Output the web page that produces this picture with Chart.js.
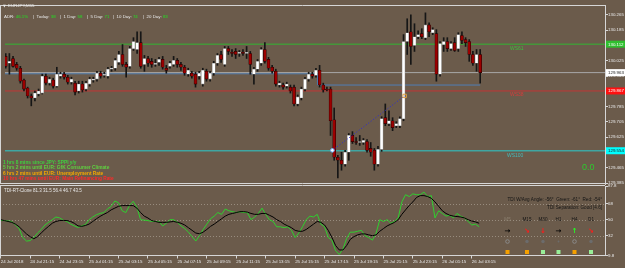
<!DOCTYPE html>
<html><head><meta charset="utf-8">
<script src="https://cdn.jsdelivr.net/npm/chart.js@4.4.1/dist/chart.umd.min.js"></script>
<style>
html,body{margin:0;padding:0;background:#6b5b4b;}
#wrap{position:relative;width:625px;height:268px;overflow:hidden;background:#6b5b4b;}
canvas{position:absolute;left:0;}
#c1{top:0;} #c2{top:178px;}
</style></head><body>
<div id="wrap"><canvas id="c1" width="625" height="190"></canvas><canvas id="c2" width="625" height="90"></canvas></div>
<script>
// ---------------- DATA ----------------
const timeLabels = ["24 Jul 2018","24 Jul 21:15","24 Jul 23:15","25 Jul 01:15","25 Jul 03:15","25 Jul 05:15","25 Jul 07:15","25 Jul 09:15","25 Jul 11:15","25 Jul 13:15","25 Jul 15:15","25 Jul 17:15","25 Jul 19:15","25 Jul 21:15","25 Jul 23:15","26 Jul 01:15","26 Jul 03:15"];
const timeTickBars = [0,8,16,24,32,40,48,56,64,72,80,88,96,104,112,120,128];
const priceTicks = [129.385,129.465,129.545,129.625,129.705,129.785,129.865,129.945,130.025,130.105,130.185,130.265];
const tdiTicks = [9.8,32,50,68,87.8];
const tdiLevels = [68,50,32];

const open = [
130.048,130.012,130.037,130.006,129.986,129.924,129.882,129.841,129.830,129.851,
129.856,129.944,129.908,129.924,129.892,129.944,129.955,129.939,129.913,129.908,
129.867,129.903,129.877,129.903,129.924,129.929,129.960,129.949,129.944,129.981,
129.986,130.017,130.058,130.006,129.996,130.089,130.084,130.120,130.006,130.037,
130.022,130.006,130.017,130.032,129.986,129.996,130.006,130.027,130.006,129.991,
129.955,129.960,129.955,129.944,129.903,129.970,129.929,129.960,130.012,130.058,
130.006,130.089,130.069,130.074,130.063,130.069,130.063,130.063,129.955,129.981,
130.012,130.084,130.032,129.991,129.970,129.898,129.898,129.892,129.887,129.887,
129.799,129.830,129.877,129.929,129.955,129.949,129.975,129.898,129.877,129.877,
129.716,129.520,129.504,129.483,129.546,129.634,129.602,129.597,129.597,129.602,
129.566,129.556,129.483,129.561,129.727,129.696,129.711,129.685,129.685,129.722,
130.126,130.177,130.105,130.151,130.167,130.146,130.213,130.172,130.167,129.955,
130.110,130.126,130.089,130.120,130.089,130.157,130.136,130.126,130.058,130.012,
130.058];
const high = [
130.063,130.063,130.048,130.017,129.996,129.929,129.887,129.851,129.867,129.877,
129.955,129.955,129.939,129.934,129.991,129.965,129.965,129.949,129.939,129.918,
129.918,129.918,129.918,129.939,129.939,129.970,129.970,129.965,129.991,129.996,
130.037,130.074,130.110,130.017,130.100,130.146,130.177,130.177,130.053,130.048,
130.037,130.032,130.043,130.048,130.001,130.022,130.048,130.037,130.017,130.001,
129.986,129.970,129.965,129.970,129.986,129.981,129.970,130.022,130.063,130.074,
130.100,130.100,130.084,130.089,130.079,130.084,130.100,130.074,129.991,130.032,
130.094,130.120,130.043,130.001,129.981,129.918,129.908,129.913,129.898,129.898,
129.846,129.887,129.939,129.965,129.965,129.986,130.001,129.908,129.887,129.887,
129.778,129.530,129.546,129.556,129.644,129.654,129.623,129.634,129.618,129.613,
129.597,129.566,129.577,129.732,129.799,129.763,129.727,129.706,129.732,130.162,
130.245,130.265,130.219,130.182,130.193,130.276,130.224,130.198,130.188,130.126,
130.146,130.146,130.126,130.146,130.172,130.177,130.146,130.136,130.074,130.084,
130.084];
const low = [
129.986,129.955,129.991,129.975,129.908,129.867,129.830,129.789,129.815,129.841,
129.851,129.898,129.898,129.882,129.887,129.934,129.929,129.903,129.903,129.846,
129.856,129.861,129.867,129.892,129.913,129.918,129.934,129.939,129.934,129.970,
129.975,130.006,129.996,129.939,129.986,130.079,130.063,129.986,129.970,129.996,
129.991,129.996,130.001,129.981,129.960,129.986,129.996,129.991,129.975,129.949,
129.944,129.934,129.887,129.929,129.892,129.918,129.918,129.949,130.001,130.017,
129.996,130.058,130.048,130.037,130.048,130.053,130.037,129.955,129.903,129.970,
130.001,130.012,129.975,129.960,129.892,129.887,129.877,129.882,129.856,129.789,
129.789,129.820,129.867,129.918,129.934,129.939,129.887,129.861,129.867,129.634,
129.504,129.411,129.452,129.473,129.504,129.592,129.587,129.582,129.587,129.546,
129.525,129.452,129.473,129.551,129.685,129.685,129.659,129.675,129.675,129.711,
130.058,130.006,130.074,130.141,130.141,130.136,130.151,130.162,129.918,129.944,
130.074,130.074,130.079,130.074,130.074,130.115,130.100,130.022,130.001,129.970,
129.908];
const close = [
129.996,130.022,129.996,129.986,129.918,129.877,129.841,129.830,129.856,129.867,
129.944,129.908,129.929,129.892,129.955,129.955,129.939,129.913,129.929,129.861,
129.903,129.872,129.908,129.929,129.929,129.960,129.944,129.955,129.981,129.986,
130.027,130.058,130.006,129.991,130.089,130.126,130.120,129.996,130.037,130.012,
130.006,130.012,130.032,129.991,129.975,130.012,130.027,130.006,129.991,129.960,
129.975,129.944,129.903,129.960,129.975,129.929,129.960,130.012,130.053,130.032,
130.089,130.074,130.063,130.058,130.069,130.063,130.069,130.006,129.981,130.022,
130.084,130.022,129.986,129.970,129.903,129.908,129.887,129.903,129.867,129.799,
129.836,129.877,129.929,129.955,129.944,129.975,129.898,129.872,129.872,129.711,
129.520,129.504,129.483,129.546,129.634,129.602,129.597,129.602,129.608,129.556,
129.546,129.483,129.561,129.722,129.696,129.711,129.675,129.696,129.722,130.126,
130.172,130.100,130.151,130.162,130.151,130.213,130.177,130.188,129.955,130.115,
130.126,130.089,130.115,130.079,130.162,130.131,130.120,130.058,130.012,130.058,
129.963];

const tdiGreen = [49.2,49,48.5,48,44,40,30,26,26.5,30,
 35,39,44,47,50,53,52,49.5,48,45,
 43,41.3,43,44.5,50,53,55.6,57,58,62,
 65,71,69,60,58,66,70.6,64,50,49.5,
 49,48,48,48,43,46,50,50,47,43,
 40,36,31,26,32,39,45,51,54,58,
 56,62,60,59,58,59,58,58,50,53,
 57,63,56,50,48,42,42,41,42,38,
 30,35,42,50,54,53,56,45,42,30,
 27,15,11,17,29,36,36,37,38,32,
 30,27,35,50,48,50,46,48,52,70,
 78,76,79,78,78,81,76,77,52,60,
 57,54,55,52,57,54,52,48,44,45,
 42];
const tdiBlack = [50,49,48,47,45,42,38,34,31,28.6,
 31,35,39,42.5,46,48,49,49.2,49,48,
 46,43,42.5,43.5,45,48,51,53.7,56,58,
 61,63,65,65.8,65.8,65.8,65.8,63,58,54,
 51.9,49,48,47,47,47,47.5,48,47,46,
 44,41,38,35,34.2,36,39,42.5,45,48,
 51,54,56,57,58,59,59,58.5,57,56,
 56,57,57,55,53,50,48,45,43,41,
 38,37,37,39,42,45,48,47,44,38,
 30,21,16,16,21,28,31,33,34,34,
 33,32,33,37,40,43,45,47,50,56,
 61,66,70,75,77,77,76,74,70,65,
 60,57,55,54,53.5,53,52,50,48.5,47.5,
 46];

const levelGreen = 130.112, levelBid = 129.963, levelRed = 129.867, levelTeal = 129.554;
const bluePivot = [{from:-0.2, to:85.5, value:129.957},{from:85.5, to:130, value:129.898}];
const trendLine = [{x:89.5, y:129.556},{x:109.3, y:129.841}];

const eventLines = [
 ["1 hrs 8 mins since JPY: SPPI y/y", "#3fcf3f"],
 ["5 hrs 2 mins until EUR: GfK Consumer Climate", "#5fd040"],
 ["6 hrs 2 mins until EUR: Unemployment Rate", "#f5a800"],
 ["10 hrs 47 mins until EUR: Main Refinancing Rate", "#ff2a2a"]
];
const adrParts = [["ADR:","46.1%"],["|  Today:","38"],["|  1 Day:","58"],["|  5 Day:","71"],["|  10 Day:","74"],["|  20 Day:","83"]];
const mtfFrames = ["M5","M15","M30","H1","H4","D1"];
const mtfArrows = ["\u2192","\u2198","\u2193","\u2192","\u2191","\u2198"];
const mtfArrowColors = ["#000000","#ff1a1a","#ff1a1a","#000000","#22ff22","#ff1a1a"];
const mtfDots = ["ring","fill","fill","dot","ring","fill"];
const mtfSquares = ["#f5a000","#f5a000","#98ee98","#98ee98","#f5a000","#98ee98"];

// ---------------- LAYOUT ----------------
const XMIN = -0.2, XMAX = 164.2;
const YMIN = 129.3798, YMAX = 130.3171;
const FONT = '"Liberation Sans", Arial, sans-serif';
const AX = '#d6d6d6';
const idx = close.map((_, i) => i);

const mainPlugin = {
  id: 'mainDeco',
  afterDraw(chart) {
    const ctx = chart.ctx, ca = chart.chartArea, ys = chart.scales.y;
    ctx.save();
    ctx.strokeStyle = AX; ctx.lineWidth = 1;
    ctx.beginPath();
    ctx.moveTo(0, ca.top + 0.5); ctx.lineTo(ca.right, ca.top + 0.5);
    ctx.moveTo(0.5, ca.top); ctx.lineTo(0.5, ca.bottom);
    ctx.moveTo(0, ca.bottom - 0.5); ctx.lineTo(ca.right, ca.bottom - 0.5);
    ctx.stroke();
    ctx.textBaseline = 'middle'; ctx.textAlign = 'left';
    // header
    ctx.fillStyle = '#e8e8e8';
    ctx.font = '3.6px "DejaVu Sans"';
    ctx.fillText('\u25BC', 3, 6);
    ctx.font = '4.4px ' + FONT;
    ctx.fillText('EURJPY,M15', 8, 6);
    const adrX = [4, 33, 60, 87, 113, 143];
    adrParts.forEach((p, k) => {
      ctx.fillStyle = '#e8e8e8';
      ctx.fillText(p[0], adrX[k], 17);
      const w = ctx.measureText(p[0] + ' ').width;
      ctx.fillStyle = '#22e022';
      ctx.fillText(p[1], adrX[k] + w, 17);
    });
    // events
    ctx.font = 'bold 4.8px ' + FONT;
    const ey = [162.5, 168, 173.5, 179];
    eventLines.forEach((e, k) => { ctx.fillStyle = e[1]; ctx.fillText(e[0], 3, ey[k]); });
    // line labels
    ctx.font = '5px ' + FONT;
    ctx.fillStyle = '#3cbf3c'; ctx.fillText('WS61', 510, ys.getPixelForValue(levelGreen) + 4);
    ctx.fillStyle = '#d83a3a'; ctx.fillText('WS38', 510, ys.getPixelForValue(levelRed) + 4);
    ctx.fillStyle = '#45b8b8'; ctx.fillText('WS100', 507, ys.getPixelForValue(levelTeal) + 4.5);
    ctx.font = '9px ' + FONT;
    ctx.fillStyle = '#2ec82e'; ctx.fillText('0.0', 582, 168);
    // price boxes on axis
    const boxes = [[levelGreen,'#2fbf2f','#ffffff','130.112'],[levelBid,'#ffffff','#202020','129.963'],[levelRed,'#ff1010','#ffffff','129.867'],[levelTeal,'#00ffff','#202020','129.554']];
    ctx.font = '4.4px ' + FONT;
    boxes.forEach(b => {
      const y = ys.getPixelForValue(b[0]);
      ctx.fillStyle = b[1]; ctx.fillRect(606, y - 3.5, 19, 7);
      ctx.fillStyle = b[2]; ctx.fillText(b[3], 608, y + 0.3);
    });
    ctx.restore();
  }
};

const lvl = (v, color, w) => ({ type:'line', data:[{x:XMIN,y:v},{x:XMAX,y:v}], borderColor:color, borderWidth:w||1, pointRadius:0, order:5 });
const blueData = [];
bluePivot.forEach(s => { blueData.push({x:s.from, y:s.value}); blueData.push({x:s.to, y:s.value}); });

new Chart(document.getElementById('c1'), {
  type: 'bar',
  data: { datasets: [
    lvl(levelGreen, '#33b533'),
    lvl(levelBid, '#a8a8a8'),
    { type:'line', data: blueData, borderColor:'#4f7fb4', borderWidth:1, pointRadius:0, order:5 },
    lvl(levelRed, '#c23535'),
    lvl(levelTeal, '#3fa6a2', 1.5),
    { type:'bar', data: idx.map(i => ({x:i, y:[low[i], high[i]]})), backgroundColor:'#161616', barThickness:1, grouped:false, order:3 },
    { type:'bar', data: idx.map(i => ({x:i, y:[open[i], close[i]]})), backgroundColor: idx.map(i => close[i] >= open[i] ? '#ffffff' : '#9c0000'),
      borderColor: idx.map(i => close[i] >= open[i] ? '#9a9a9a' : '#2a0000'), borderWidth:0.6, borderSkipped:false, barThickness:3, grouped:false, minBarLength:1, order:2 },
    { type:'line', data: trendLine, borderColor:'#2a2ad8', borderWidth:1, borderDash:[1,2], pointRadius:[1.8,2.4],
      pointStyle:['circle','rect'], pointBackgroundColor:['#ffffff','rgba(0,0,0,0)'], pointBorderColor:['#6fb0ff','#e0a040'], pointBorderWidth:1, order:1 }
  ]},
  options: {
    responsive:false, animation:false, devicePixelRatio:1,
    layout:{ padding:{ left:0, right:0, top:3, bottom:6 } },
    plugins:{ legend:{display:false}, tooltip:{enabled:false} },
    scales:{
      x:{ type:'linear', min:XMIN, max:XMAX, display:false, offset:false },
      y:{ type:'linear', position:'right', min:YMIN, max:YMAX,
          afterBuildTicks: s => { s.ticks = priceTicks.map(v => ({value:v})); },
          afterFit: s => { s.width = 20; s.paddingTop = 0; s.paddingBottom = 0; },
          ticks:{ color:'#e8e8e8', font:{family:FONT, size:4.4}, padding:0, autoSkip:false, callback: v => Number(v).toFixed(3) },
          grid:{ drawOnChartArea:false, drawTicks:true, tickLength:3, tickColor:AX },
          border:{ display:true, color:AX } }
    }
  },
  plugins:[mainPlugin]
});

const tdiPlugin = {
  id: 'tdiDeco',
  beforeDatasetsDraw(chart) {
    const ctx = chart.ctx, ca = chart.chartArea, ys = chart.scales.y;
    ctx.save();
    ctx.strokeStyle = 'rgba(190,180,170,0.55)'; ctx.lineWidth = 1; ctx.setLineDash([1,2]);
    tdiLevels.forEach(v => { const y = Math.round(ys.getPixelForValue(v)) + 0.5; ctx.beginPath(); ctx.moveTo(ca.left, y); ctx.lineTo(ca.right, y); ctx.stroke(); });
    ctx.restore();
  },
  afterDraw(chart) {
    const ctx = chart.ctx, ca = chart.chartArea;
    ctx.save();
    ctx.strokeStyle = AX; ctx.lineWidth = 1;
    ctx.beginPath();
    ctx.moveTo(0, ca.top - 0.5); ctx.lineTo(ca.right, ca.top - 0.5);
    ctx.moveTo(0.5, ca.top); ctx.lineTo(0.5, ca.bottom);
    ctx.stroke();
    const Y = a => a - 178;
    ctx.textBaseline = 'middle';
    ctx.textAlign = 'left'; ctx.fillStyle = '#e8e8e8'; ctx.font = '4.5px ' + FONT;
    ctx.fillText('TDI-RT-Clone 81.3 31.5 56.4 46.7 43.5', 4, Y(191));
    ctx.textAlign = 'right'; ctx.fillStyle = '#141414'; ctx.font = '4.6px ' + FONT;
    ctx.fillText('TDI W/Avg Angle: -56\u00B0  Green: -61\u00B0  Red: -54\u00B0', 602, Y(199.5));
    ctx.fillText('TDI Separation: Good [4.6]', 602, Y(207.5));
    const mx = [507.5, 527, 543, 558.5, 574.5, 591];
    ctx.textAlign = 'center';
    mtfFrames.forEach((f, k) => {
      ctx.font = '4.6px ' + FONT;
      ctx.fillStyle = k === 0 ? '#8c8070' : '#141414';
      ctx.fillText(f, mx[k], Y(220));
      ctx.font = 'bold 7px "DejaVu Sans"';
      ctx.fillStyle = mtfArrowColors[k];
      ctx.fillText(mtfArrows[k], mx[k], Y(231));
      const cy = Y(241.5);
      ctx.beginPath();
      if (mtfDots[k] === 'ring') { ctx.strokeStyle = '#8a8a8a'; ctx.lineWidth = 1; ctx.arc(mx[k], cy, 1.8, 0, Math.PI*2); ctx.stroke(); }
      else if (mtfDots[k] === 'fill') { ctx.fillStyle = '#6c6c6c'; ctx.arc(mx[k], cy, 1.7, 0, Math.PI*2); ctx.fill(); }
      else { ctx.fillStyle = '#6c6c6c'; ctx.arc(mx[k], cy, 0.9, 0, Math.PI*2); ctx.fill(); }
      ctx.fillStyle = mtfSquares[k];
      ctx.fillRect(mx[k] - 2, Y(250), 4, 4);
    });
    ctx.restore();
  }
};

new Chart(document.getElementById('c2'), {
  type: 'line',
  data: { datasets: [
    { data: idx.map(i => ({x:i, y:tdiBlack[i]})), borderColor:'#000000', borderWidth:1, pointRadius:0, tension:0 },
    { data: idx.map(i => ({x:i, y:tdiGreen[i]})), borderColor:'#2fd02f', borderWidth:1, pointRadius:0, tension:0 }
  ]},
  options: {
    responsive:false, animation:false, devicePixelRatio:1,
    layout:{ padding:{ left:0, right:0, top:8, bottom:0 } },
    plugins:{ legend:{display:false}, tooltip:{enabled:false} },
    scales:{
      x:{ type:'linear', min:XMIN, max:XMAX, offset:false,
          afterBuildTicks: s => { s.ticks = timeTickBars.map(v => ({value:v})); },
          afterFit: s => { s.height = 12.5; s.paddingLeft = 0; s.paddingRight = 0; },
          ticks:{ align:'start', maxRotation:0, minRotation:0, autoSkip:false, padding:1, color:'#e8e8e8', font:{family:FONT, size:4.4},
                  callback: (v, i) => timeLabels[i] },
          grid:{ drawOnChartArea:false, drawTicks:true, tickLength:3, tickColor:AX },
          border:{ display:true, color:AX } },
      y:{ type:'linear', position:'right', min:9.8, max:87.8,
          afterBuildTicks: s => { s.ticks = tdiTicks.map(v => ({value:v})); },
          afterFit: s => { s.width = 20; s.paddingTop = 0; s.paddingBottom = 0; },
          ticks:{ color:'#e8e8e8', font:{family:FONT, size:4.4}, padding:0, autoSkip:false, callback: v => String(v) },
          grid:{ drawOnChartArea:false, drawTicks:true, tickLength:3, tickColor:AX },
          border:{ display:true, color:AX } }
    }
  },
  plugins:[tdiPlugin]
});
</script>
</body></html>
